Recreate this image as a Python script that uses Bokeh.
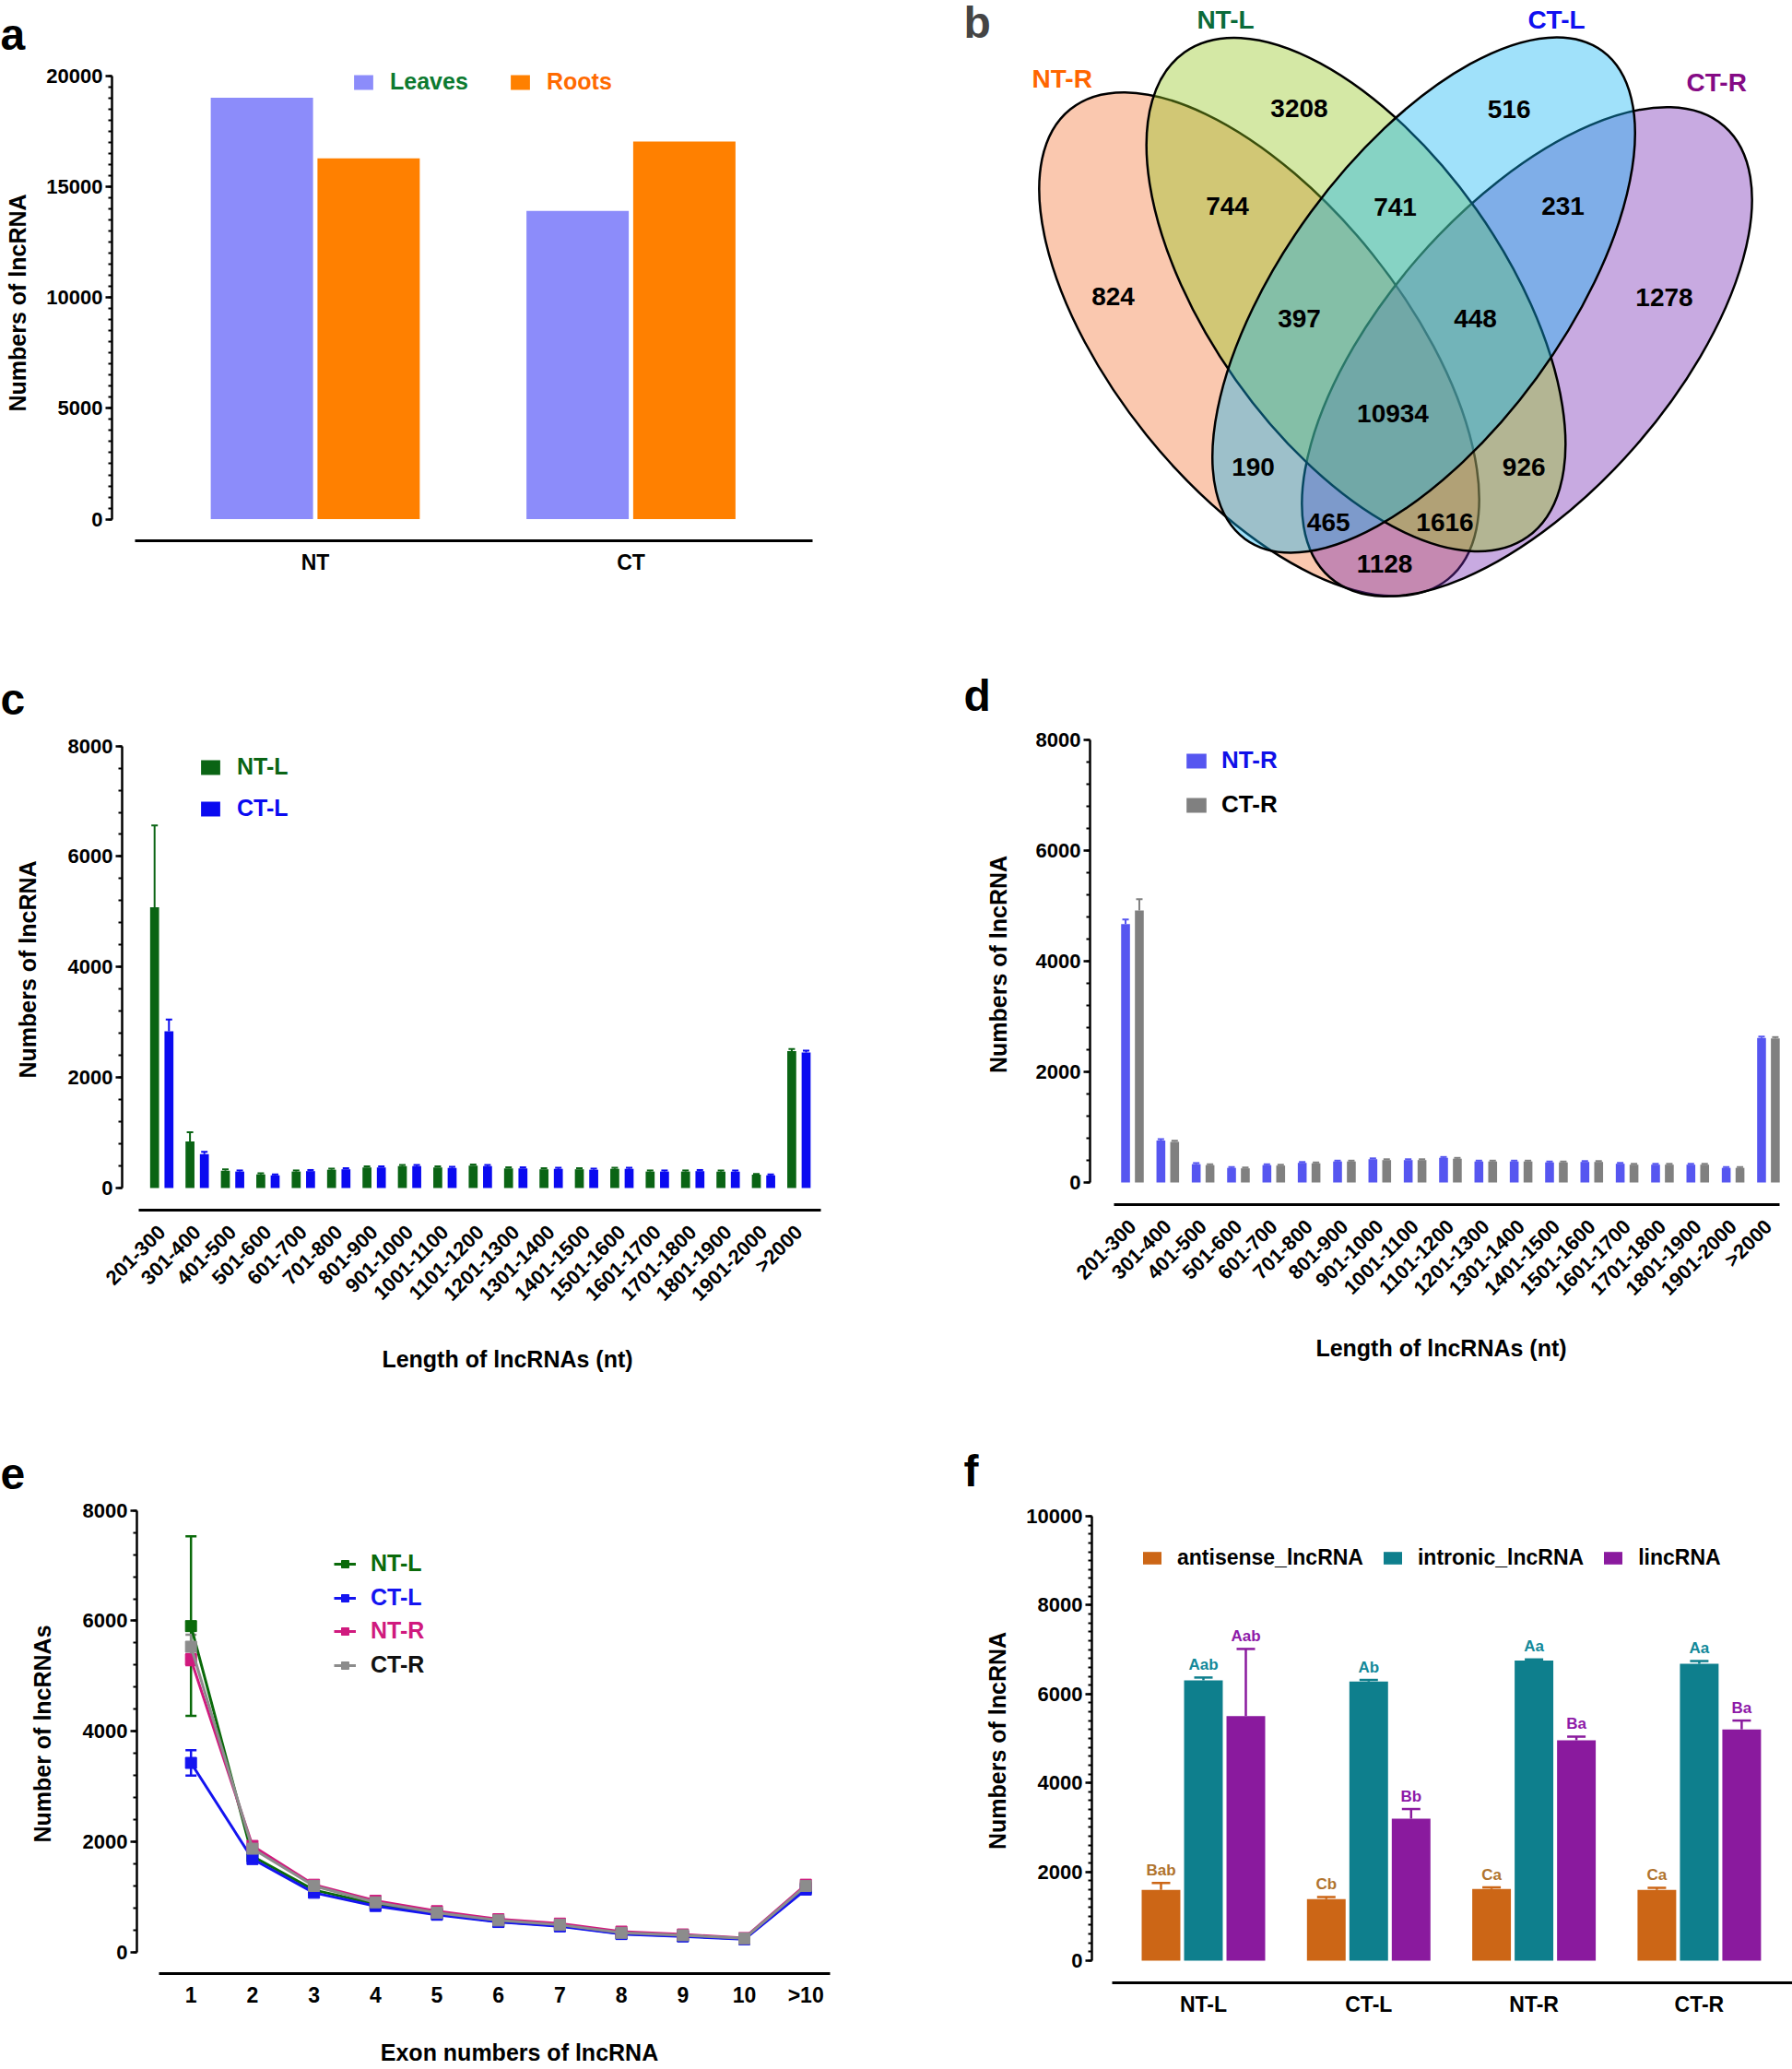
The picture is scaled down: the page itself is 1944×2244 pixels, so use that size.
import math
import numpy as np
from bokeh.plotting import figure
from bokeh.models import (ColumnDataSource, Range1d, FixedTicker, SingleIntervalTicker,
                          Legend, LegendItem, Whisker, TeeHead, Label)
from bokeh.layouts import column, row
from bokeh.embed import file_html
from bokeh.resources import INLINE
from bokeh.core.properties import value

FONT = "Liberation Sans"

# ---------------- data ----------------
# (a)
a_groups = ["NT", "CT"]
a_leaves = [19010, 13910]
a_roots = [16280, 17030]

# (b) Venn counts
venn_sets = ["NT-R", "NT-L", "CT-L", "CT-R"]
venn_regions = ["NT-R", "NT-L", "CT-L", "CT-R", "NT-R&NT-L", "NT-L&CT-L", "CT-L&CT-R",
                "NT-R&CT-R", "NT-R&NT-L&CT-L", "NT-L&CT-L&CT-R", "NT-R&CT-L", "NT-L&CT-R",
                "all", "NT-R&CT-L&CT-R", "NT-R&NT-L&CT-R"]
venn_counts = [824, 3208, 516, 1278, 744, 741, 231, 1128, 397, 448, 190, 926, 10934, 465, 1616]

# (c), (d) length distribution
length_bins = ["201-300", "301-400", "401-500", "501-600", "601-700", "701-800", "801-900",
               "901-1000", "1001-1100", "1101-1200", "1201-1300", "1301-1400", "1401-1500",
               "1501-1600", "1601-1700", "1701-1800", "1801-1900", "1901-2000", ">2000"]
c_ntl = [5083, 843, 314, 248, 298, 331, 372, 397, 372, 405, 355, 339, 339, 347, 298, 298, 298, 240, 2479]
c_ctl = [2835, 612, 298, 231, 306, 339, 372, 397, 364, 397, 355, 347, 331, 347, 298, 306, 298, 231, 2455]
c_ntl_err = [1480, 165, 25, 20, 20, 20, 20, 20, 20, 20, 20, 20, 20, 20, 20, 20, 20, 15, 35]
c_ctl_err = [215, 45, 20, 15, 20, 20, 20, 20, 20, 20, 20, 20, 20, 20, 20, 20, 20, 15, 30]
d_ntr = [4669, 760, 331, 264, 314, 355, 380, 421, 405, 446, 380, 380, 364, 372, 339, 322, 322, 264, 2612]
d_ctr = [4917, 735, 314, 256, 306, 347, 380, 405, 405, 430, 380, 380, 364, 372, 322, 322, 322, 264, 2603]
d_ntr_err = [85, 25, 20, 15, 15, 15, 15, 15, 15, 15, 15, 15, 15, 15, 15, 15, 15, 15, 25]
d_ctr_err = [205, 20, 15, 15, 15, 15, 15, 15, 15, 15, 15, 15, 15, 15, 15, 15, 15, 15, 25]

# (e) exon numbers
exon_labels = ["1", "2", "3", "4", "5", "6", "7", "8", "9", "10", ">10"]
e_ntl = [5906, 1740, 1130, 877, 696, 558, 486, 341, 297, 246, 1168]
e_ctl = [3430, 1690, 1080, 841, 682, 551, 471, 333, 290, 239, 1138]
e_ntr = [5301, 1928, 1225, 935, 747, 602, 522, 377, 326, 261, 1226]
e_ctr = [5533, 1878, 1204, 906, 718, 580, 500, 355, 312, 254, 1204]
e_ntl_err = [1625, 40, 30, 20, 20, 20, 20, 20, 20, 20, 30]
e_ctl_err = [228, 30, 20, 20, 20, 20, 20, 20, 20, 20, 30]
e_ntr_err = [100, 40, 20, 20, 20, 20, 20, 20, 20, 20, 30]
e_ctr_err = [215, 40, 20, 20, 20, 20, 20, 20, 20, 20, 30]

# (f) lncRNA types
f_samples = ["NT-L", "CT-L", "NT-R", "CT-R"]
f_types = ["antisense_lncRNA", "intronic_lncRNA", "lincRNA"]
f_antisense = [1593, 1385, 1611, 1593]
f_intronic = [6308, 6281, 6751, 6679]
f_linc = [5502, 3195, 4959, 5204]
f_antisense_err = [154, 45, 36, 45]
f_intronic_err = [63, 36, 27, 63]
f_linc_err = [1512, 217, 82, 199]
f_antisense_sig = ["Bab", "Cb", "Ca", "Ca"]
f_intronic_sig = ["Aab", "Ab", "Aa", "Aa"]
f_linc_sig = ["Aab", "Bb", "Ba", "Ba"]

# ---------------- helpers ----------------
def make_fig(col0, w, row0, h, frame, xcal, ycal, letter, letter_x, letter_standoff):
    L, R, T, B = [int(round(v)) for v in frame]
    x0, k = xcal
    (v0, py0), (v1, py1) = ycal
    ky = (py0 - py1) / (v1 - v0)
    xs, xe = (L - x0) / k, (R - x0) / k
    ys, ye = v0 - (B - py0) / ky, v0 + (py0 - T) / ky
    p = figure(width=w, height=h, x_range=Range1d(xs, xe), y_range=Range1d(ys, ye),
               output_backend="svg", toolbar_location=None,
               min_border_left=L - col0, min_border_right=col0 + w - R,
               min_border_top=T - row0, min_border_bottom=row0 + h - B)
    p.frame_align = False
    p.outline_line_color = None
    p.grid.visible = False
    p.background_fill_color = "white"
    p.border_fill_color = "white"
    p.title.text = letter
    p.title.text_font = FONT
    p.title.text_font_style = "bold"
    p.title.text_font_size = "48px"
    p.title.text_color = "black"
    p.title.align = "left"
    p.title.standoff = letter_standoff
    p.title.offset = letter_x - L
    return p, (L, B, x0, k)


def style_y(p, interval, nminor, top, label, standoff, fs="22px"):
    ax = p.yaxis[0]
    ax.ticker = SingleIntervalTicker(interval=interval, num_minor_ticks=nminor)
    ax.bounds = (0, top)
    ax.axis_line_color = "black"
    ax.axis_line_width = 2.5
    ax.major_tick_line_color = "black"
    ax.major_tick_line_width = 2.5
    ax.major_tick_in = 0
    ax.major_tick_out = 7
    ax.minor_tick_line_color = "black"
    ax.minor_tick_line_width = 2
    ax.minor_tick_in = 0
    ax.minor_tick_out = 4
    ax.major_label_text_font = FONT
    ax.major_label_text_font_style = "bold"
    ax.major_label_text_font_size = fs
    ax.major_label_text_color = "black"
    ax.major_label_standoff = 3
    ax.axis_label = label
    ax.axis_label_text_font = FONT
    ax.axis_label_text_font_style = "bold"
    ax.axis_label_text_font_size = "25px"
    ax.axis_label_text_color = "black"
    ax.axis_label_standoff = standoff


def style_x(p, geo, labels, lo_page, hi_page, fs, standoff, orient=None, title=None, title_standoff=0):
    L, B, x0, k = geo
    ticks = [float(i) for i in range(len(labels))]
    ax = p.xaxis[0]
    ax.ticker = FixedTicker(ticks=ticks, minor_ticks=[])
    ax.major_label_overrides = {t: lab for t, lab in zip(ticks, labels)}
    ax.bounds = ((lo_page - x0) / k, (hi_page - x0) / k)
    ax.axis_line_color = "black"
    ax.axis_line_width = 3
    ax.major_tick_line_color = None
    ax.minor_tick_line_color = None
    ax.major_tick_in = 0
    ax.major_tick_out = 0
    ax.major_label_text_font = FONT
    ax.major_label_text_font_style = "bold"
    ax.major_label_text_font_size = fs
    ax.major_label_text_color = "black"
    ax.major_label_standoff = standoff
    if orient is not None:
        ax.major_label_orientation = orient
    if title is not None:
        ax.axis_label = title
        ax.axis_label_text_font = FONT
        ax.axis_label_text_font_style = "bold"
        ax.axis_label_text_font_size = "25px"
        ax.axis_label_text_color = "black"
        ax.axis_label_standoff = title_standoff


def add_legend(p, items, loc, color, fs, gw, gh, standoff, spacing=0, orientation="vertical"):
    lg = Legend(items=items, location=loc, orientation=orientation)
    lg.label_text_font = FONT
    lg.label_text_font_style = "bold"
    lg.label_text_font_size = fs
    lg.label_text_color = color
    lg.glyph_width = gw
    lg.glyph_height = gh
    lg.label_standoff = standoff
    lg.spacing = spacing
    lg.padding = 0
    lg.margin = 0
    lg.border_line_color = None
    lg.background_fill_alpha = 0
    p.add_layout(lg)


# ---------------- panel a ----------------
pa, ga = make_fig(0, 1010, 0, 690, (121, 881, 70, 586), (341.5, 342.5), ((0, 562.6), (20000, 81.7)), "a", 0, 13)
xa = np.arange(len(a_groups))
ra1 = pa.vbar(x=xa - 0.169, top=a_leaves, width=0.324, fill_color="#8C8CFA", line_color=None)
ra2 = pa.vbar(x=xa + 0.169, top=a_roots, width=0.324, fill_color="#FF8000", line_color=None)
style_y(pa, 5000, 10, 20000, "Numbers of lncRNA", 14)
style_x(pa, ga, a_groups, 146, 881, "23px", 10)
add_legend(pa, [LegendItem(label="Leaves", renderers=[ra1])], (260, 483), "#0C7A30", "25px", 26, 20, 16)
add_legend(pa, [LegendItem(label="Roots", renderers=[ra2])], (430, 483), "#FF6A00", "25px", 26, 20, 16)

# ---------------- panel b (Venn) ----------------
pb = figure(width=934, height=690, x_range=Range1d(-501.5, 432.5), y_range=Range1d(-350, 340),
            x_axis_type=None, y_axis_type=None, output_backend="svg", toolbar_location=None,
            min_border=0)
pb.frame_align = False
pb.outline_line_color = None
pb.grid.visible = False
# ellipse geometry (layout), drawn in order NT-R, CT-R, NT-L, CT-L
ell_x = [-146, 144.5, -41, 32.5]
ell_y = [-32.8, -41, 21, 20.5]
ell_w = [654, 650, 644, 656]
ell_h = [314, 312, 320, 304]
ell_ang = [128.8, 48.8, 125.3, 53.8]
ell_fill = ["#F27637", "#762AB4", "#94C51E", "#12B4F2"]
pb.ellipse(x=ell_x, y=ell_y, width=ell_w, height=ell_h, angle=np.radians(ell_ang),
           fill_color=ell_fill, fill_alpha=0.4, line_color="black", line_width=2.5)
reg_x = [-304.5, -102.5, 125.2, 293.5, -180.5, 1.5, 183.5, -10, -102.5, 88.5, -152.5, 141.2, -1, -70.8, 55.5]
reg_y = [19, 223, 222, 18, 117, 116, 117, -271, -5, -5, -166, -166, -108, -226, -226]
pb.text(x=reg_x, y=reg_y, text=[str(v) for v in venn_counts], text_font=value(FONT),
        text_font_style="bold", text_font_size="28px", text_color="black",
        text_align="center", text_baseline="middle")
set_x = [-359.8, -182.5, 176.5, 350.2]
set_y = [254.7, 319, 319, 250.6]
set_col = ["#FF6600", "#0B6B3A", "#1010F0", "#850A85"]
pb.text(x=set_x, y=set_y, text=venn_sets, text_font=value(FONT), text_font_style="bold",
        text_font_size="28px", text_color=set_col, text_align="center", text_baseline="middle")
pb.add_layout(Label(x=35, y=640, x_units="screen", y_units="screen", text="b",
                    text_font=FONT, text_font_style="bold", text_font_size="48px"))

# ---------------- panel c ----------------
pc, gc = make_fig(0, 1010, 690, 848, (132, 968, 790, 1312), (175, 38.4), ((0, 1288), (8000, 808.6)), "c", 0, 12)
xc = np.arange(len(length_bins))
rc1 = pc.vbar(x=xc - 0.203, top=c_ntl, width=0.253, fill_color="#0A6414", line_color=None)
rc2 = pc.vbar(x=xc + 0.203, top=c_ctl, width=0.253, fill_color="#0A0AF0", line_color=None)
for off, vals, errs, col in [(-0.203, c_ntl, c_ntl_err, "#0A6414"), (0.203, c_ctl, c_ctl_err, "#0A0AF0")]:
    src = ColumnDataSource(dict(x=xc + off, lo=np.array(vals), hi=np.array(vals) + np.array(errs)))
    pc.add_layout(Whisker(source=src, base="x", lower="lo", upper="hi", dimension="height",
                          line_color=col, line_width=2,
                          upper_head=TeeHead(size=7, line_color=col, line_width=2), lower_head=None))
style_y(pc, 2000, 5, 8000, "Numbers of lncRNA", 27)
style_x(pc, gc, length_bins, 150, 890, "22px", 20, math.pi / 4, "Length of lncRNAs (nt)", 32)
add_legend(pc, [LegendItem(label="NT-L", renderers=[rc1])], (83, 466), "#0A6414", "25px", 26, 20, 16)
add_legend(pc, [LegendItem(label="CT-L", renderers=[rc2])], (83, 421), "#0A0AF0", "25px", 26, 20, 16)

# ---------------- panel d ----------------
pd_, gd = make_fig(1010, 934, 690, 848, (1182, 1944, 785, 1306), (1228, 38.33), ((0, 1282), (8000, 802)), "d", 1045, 9)
xd = np.arange(len(length_bins))
rd1 = pd_.vbar(x=xd - 0.195, top=d_ntr, width=0.25, fill_color="#5656F0", line_color=None)
rd2 = pd_.vbar(x=xd + 0.195, top=d_ctr, width=0.25, fill_color="#808080", line_color=None)
for off, vals, errs, col in [(-0.195, d_ntr, d_ntr_err, "#5656F0"), (0.195, d_ctr, d_ctr_err, "#808080")]:
    src = ColumnDataSource(dict(x=xd + off, lo=np.array(vals), hi=np.array(vals) + np.array(errs)))
    pd_.add_layout(Whisker(source=src, base="x", lower="lo", upper="hi", dimension="height",
                           line_color=col, line_width=2,
                           upper_head=TeeHead(size=7, line_color=col, line_width=2), lower_head=None))
style_y(pd_, 2000, 5, 8000, "Numbers of lncRNA", 24)
style_x(pd_, gd, length_bins, 1208, 1930, "22px", 20, math.pi / 4, "Length of lncRNAs (nt)", 26)
add_legend(pd_, [LegendItem(label="NT-R", renderers=[rd1])], (102, 466), "#1010E8", "26px", 27, 20, 14)
add_legend(pd_, [LegendItem(label="CT-R", renderers=[rd2])], (102, 418), "black", "26px", 27, 20, 14)

# ---------------- panel e ----------------
pe, ge = make_fig(0, 1010, 1538, 704, (148, 978, 1620, 2142), (206.7, 66.7), ((0, 2119), (8000, 1637.7)), "e", 0, 12)
xe = np.arange(len(exon_labels))
e_series = [("NT-L", e_ntl, e_ntl_err, "#0A6A0A", "#0A6A0A"),
            ("CT-L", e_ctl, e_ctl_err, "#1414F0", "#1414F0"),
            ("NT-R", e_ntr, e_ntr_err, "#D01A7E", "#D01A7E"),
            ("CT-R", e_ctr, e_ctr_err, "#8C8C8C", "#111111")]
e_legend_y = [430, 393, 357, 320]
for (name, vals, errs, col, tcol), ly in zip(e_series, e_legend_y):
    rl = pe.line(x=xe, y=vals, line_color=col, line_width=3)
    rs = pe.scatter(x=xe, y=vals, marker="square", size=12, fill_color=col, line_color=col)
    v = np.array(vals); er = np.array(errs)
    src = ColumnDataSource(dict(x=xe, lo=v - er, hi=v + er))
    pe.add_layout(Whisker(source=src, base="x", lower="lo", upper="hi", dimension="height",
                          line_color=col, line_width=2.5,
                          upper_head=TeeHead(size=12, line_color=col, line_width=2.5),
                          lower_head=TeeHead(size=12, line_color=col, line_width=2.5)))
    add_legend(pe, [LegendItem(label=name, renderers=[rl, rs])], (214, ly), tcol, "25px", 24, 20, 16)
style_y(pe, 2000, 5, 8000, "Number of lncRNAs", 27)
style_x(pe, ge, exon_labels, 172, 900, "23px", 10, None, "Exon numbers of lncRNA", 32)

# ---------------- panel f ----------------
pf, gf = make_fig(1010, 934, 1538, 704, (1184, 1944, 1625, 2150), (1305, 179.3), ((0, 2126), (10000, 1644)), "f", 1045, 7)
xf = np.arange(len(f_samples))
f_series = [(f_antisense, f_antisense_err, f_antisense_sig, "#CC6616", "#B0742E", -0.2566),
            (f_intronic, f_intronic_err, f_intronic_sig, "#0E7F8D", "#13899A", 0.0),
            (f_linc, f_linc_err, f_linc_sig, "#8A1A9E", "#8E1AA8", 0.2566)]
f_items = []
for name, (vals, errs, sig, col, tcol, off) in zip(f_types, f_series):
    r = pf.vbar(x=xf + off, top=vals, width=0.234, fill_color=col, line_color=None)
    v = np.array(vals); er = np.array(errs)
    src = ColumnDataSource(dict(x=xf + off, lo=v, hi=v + er))
    pf.add_layout(Whisker(source=src, base="x", lower="lo", upper="hi", dimension="height",
                          line_color=col, line_width=2.5,
                          upper_head=TeeHead(size=20, line_color=col, line_width=2.5), lower_head=None))
    pf.text(x=xf + off, y=v + er, text=sig, text_font=value(FONT), text_font_style="bold",
            text_font_size="17px", text_color=tcol, text_align="center", text_baseline="middle",
            y_offset=-14)
    f_items.append(LegendItem(label=name, renderers=[r]))
style_y(pf, 2000, 10, 10000, "Numbers of lncRNA", 14)
style_x(pf, gf, f_samples, 1206, 1944, "23px", 10)
add_legend(pf, f_items, (53, 447), "black", "23px", 25, 17, 15, spacing=19, orientation="horizontal")

layout = column(row(pa, pb), row(pc, pd_), row(pe, pf))
open("out.html", "w").write(file_html(layout, INLINE))
